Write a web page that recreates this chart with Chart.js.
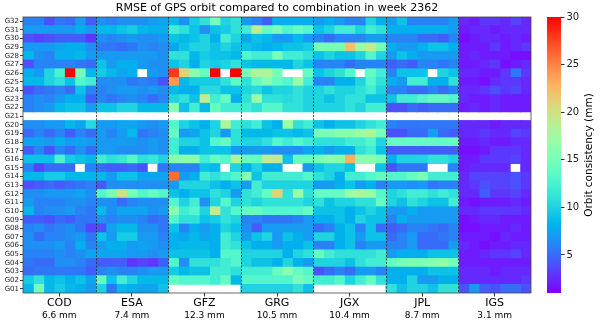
<!DOCTYPE html>
<html>
<head>
<meta charset="utf-8">
<title>RMSE of GPS orbit</title>
<script src="https://cdn.jsdelivr.net/npm/chart.js@4.4.1/dist/chart.umd.min.js"></script>
<style>
  html, body { margin: 0; padding: 0; background: #fff; }
  #wrap { position: relative; width: 600px; height: 325px; }
  #heat { position: absolute; left: 0; top: 0; }
  #bar { position: absolute; left: 540px; top: 0; }
</style>
</head>
<body>
<div id="wrap">
  <canvas id="heat" width="540" height="325"></canvas>
  <canvas id="bar" width="60" height="325"></canvas>
</div>
<script>
const satellites = ["G32", "G31", "G30", "G29", "G28", "G27", "G26", "G25", "G24", "G23", "G22",
  "G21", "G20", "G19", "G18", "G17", "G16", "G15", "G14", "G13", "G12", "G11", "G10", "G09",
  "G08", "G07", "G06", "G05", "G04", "G03", "G02", "G01"];
const centers = ["COD", "ESA", "GFZ", "GRG", "JGX", "JPL", "IGS"];
const centerRms = [6.6, 7.4, 12.3, 10.5, 10.4, 8.7, 3.1];
const colorTicks = [5, 10, 15, 20, 25, 30];
const vmin = 1;
const vmax = 30;
const days = 7;
const fontFamily = "'DejaVu Sans', sans-serif";

// daily RMSE (mm), rows G32 -> G01, one column per day of the week
const cod = [
  [6, 6, 4, 5.5, 5, 7, 4.5],
  [7, 7, 7, 7, 7, 8, 7],
  [4, 3.5, 4, 4.5, 4.5, 4.5, 3],
  [7, 7, 7, 7.5, 8, 8, 6.5],
  [8.5, 6.5, 6, 8, 8, 8.5, 7],
  [4, 6, 6, 6, 6, 5.5, 5],
  [8, 7, 10, 12.5, 30, 15, 8.5],
  [8.5, 8.5, 10, 11, 9, 13, 12],
  [4, 5, 5.5, 6, 5, 9, 6],
  [6, 6.5, 6, 7, 8, 8, 4.5],
  [6, 6.5, 7, 8.5, 9, 9, 7],
  [null, null, null, null, null, null, null],
  [6.5, 6.5, 7, 7, 8.5, 7.5, 10.5],
  [5, 6, 5, 6, 4.5, 6, 5],
  [7.5, 7.5, 7, 8, 7, 7.5, 7],
  [4.5, 6, 4, 6, 5, 6.5, 5],
  [9, 9, 9, 12.5, 9.5, 9, 8.5],
  [6, 3.5, 5, 5, 5, null, 6],
  [8.5, 8.5, 9.5, 9.5, 8.5, 8.5, 8.5],
  [4, 4.5, 5, 4.5, 5, 5.5, 6],
  [6.5, 6.5, 7, 7, 7, 7.5, 6.5],
  [7, 6, 6, 6, 6.5, 6.5, 6],
  [8.5, 6, 6.5, 6.5, 7, 6, 5.5],
  [4.5, 4.5, 4, 5, 4.5, 5.5, 5.5],
  [6, 6.5, 5.5, 6, 6.5, 5.5, 3.5],
  [6.5, 5, 6, 6, 6.5, 7, 5.5],
  [6.5, 6.5, 6.5, 7, 6, 8, 6],
  [6, 6, 6, 6.5, 6, 6.5, 7.5],
  [5.5, 5, 5, 6.5, 6.5, 6, 5],
  [5, 5.5, 5.5, 5.5, 5.5, 5.5, 4.5],
  [9.5, 11, 8.5, 9, 8, 9, 7.5],
  [8.5, 15, 8.5, 9.5, 8.5, 8, 7]
];
const esa = [
  [6.5, 6, 6.5, 6.5, 6.5, 7, 7.5],
  [8.5, 8.5, 9, 9.5, 8.5, 8, 8],
  [6.5, 6, 6.5, 7, 6.5, 6.5, 7],
  [5.5, 5.5, 5, 5.5, 6.5, 6, 6.5],
  [7, 7, 7, 7, 7, 7, 6.5],
  [9, 7, 8, 8, 7, 6.5, 6.5],
  [9.5, 8.5, 7.5, 8, null, 7, 6.5],
  [6.5, 6.5, 6.5, 5.5, 6, 5.5, 4],
  [6, 6.5, 7, 7, 6.5, 7, 6.5],
  [6, 5.5, 6, 6.5, 6, 5, 6],
  [9, 9, 10, 10, 8.5, 8.5, 8.5],
  [null, null, null, null, null, null, null],
  [7, 7, 7.5, 7.5, 7, 6.5, 7],
  [7, 6, 7, 8.5, 5.5, 6, 6.5],
  [7, 7, 7, 7, 6.5, 7, 6.5],
  [7, 7, 6.5, 6.5, 6.5, 7, 6.5],
  [12, 11, 11.5, 13, 11, 11.5, 10],
  [5, 4.5, 4.5, 5, 4, null, 5.5],
  [8.5, 7, 9, 9, 7.5, 7.5, 7.5],
  [4.5, 6.5, 6.5, 6.5, 6.5, 6.5, 6.5],
  [13, 15, 20, 15, 13, 14, 13],
  [6.5, 6.5, 5, 6, 6.5, 6.5, 6.5],
  [8.5, 6.5, 7.5, 7.5, 7.5, 6.5, 7],
  [6.5, 6, 6.5, 6.5, 6, 5, 5.5],
  [4, 7.5, 8.5, 8.5, 6.5, 6.5, 5.5],
  [9, 7, 9.5, 9.5, 7, 7, 6],
  [7, 8, 8, 7, 7.5, 7, 6.5],
  [7.5, 7.5, 7.5, 7, 7, 6.5, 7],
  [4.5, 4.5, 4.5, 3, 3.5, 3, 4.5],
  [6, 6.5, 6, 6, 6.5, 7, 7],
  [14, 9, 12, 10, 8.5, 8.5, 8.5],
  [10, 5.5, 8.5, 8, 7.5, 7.5, 9]
];
const gfz = [
  [8.5, 6.5, 9.5, 11, 15, 10, 11],
  [12, 11, 9, 6.5, 9, 9.5, 11],
  [9, 8.5, 9, 10, 8, 12, 10],
  [7.5, 9, 10, 10, 9, 10, 9],
  [11, 11, 8.5, 9.5, 9, 9, 8.5],
  [9, 10, 8, 10, 9.5, 10, 11],
  [28, 21, 16, 14, 30, null, 30],
  [24, 8.5, 9.5, 9.5, 9.5, 11, 13.5],
  [8.5, 8, 8, 10.5, 10.5, 9, 9],
  [10, 11, 9, 19, 12, 14, 8],
  [16, 9, 12, 8.5, 14, 12, 12],
  [null, null, null, null, null, null, null],
  [13, 10, 9, 8, 10, 18, 12],
  [14, 7, 7.5, 9, 10, 7, 11],
  [12, 10, 10, 9, 13, 14, 11],
  [12, 8, 8, 9, 9, 9, 7],
  [16, 16, 16, 12, 14, 13, 18],
  [6, 6, 6, 9, 8.5, null, 10],
  [26, 7, 8, 12, 11, 12, 13],
  [7, 10, 10, 10, 9, 8, 9],
  [9, 8, 9, 9, 11, 10, 7],
  [13, 10, 12, 6.5, 10, 13, 10],
  [16, 12, 13, 10, 19, 11, 13],
  [13, 11, 11, 9, 9.5, 11, 10],
  [9, 6, 8, 7, 8, 10, 9],
  [8, 7.5, 8.5, 7.5, 8, 12, 10],
  [8, 8.5, 8.5, 8.5, 8, 12, 11],
  [9, 9, 9, 9, 8, 13, 13],
  [13, 6.5, 11, 11, 11, 12, 13],
  [9.5, 8.5, 9, 9, 12, 12, 11],
  [14, 13, 13, 13, 12, 14, 8.5],
  [null, null, null, null, null, null, null]
];
const grg = [
  [7, 6, 4.5, 8, 8, 8, 8],
  [12, 19, 14, 15, 13, 14, 13],
  [7.5, 9, 8.5, 7, 7, 8.5, 7],
  [9, 8.5, 8, 8.5, 9, 9, 9.5],
  [13, 12, 12, 15, 12, 12, 11],
  [9, 8.5, 8.5, 8.5, 8.5, 10, 9],
  [15, 18, 18, 15, null, null, 14],
  [11, 14, 16, 14, 13, 17, 12],
  [10, 10.5, 9, 10, 10, 11, 10],
  [11, 17, 11, 11, 10.5, 11, 10],
  [12, 11, 13, 13, 11, 11, 10],
  [null, null, null, null, null, null, null],
  [11, 12, 9, 8, 17, 11, 12],
  [8.5, 8.5, 8.5, 9, 9, 8.5, 9],
  [10, 10, 11, 13, 12, 13, 12],
  [7, 7, 7, 6.5, 6.5, 6.5, 7.5],
  [14, 14, 19, 19, 9, 14, 14],
  [8, 10, 8, 8, null, null, 7],
  [16, 9, 12, 12, 12, 12, 13],
  [7, 12, 10, 10, 10, 10, 10],
  [11, 12, 14, 21, 11, 17, 11],
  [11, 10, 11, 11, 11, 11, 10],
  [14, 14, 13, 13, 13, 13, 14],
  [6, 6, 5.5, 5.5, 5.5, 6, 7],
  [6.5, 4.5, 7, 7, 7, 7, 7],
  [7, 9, 10, 7, 9, 8, 7],
  [9, 8, 8, 7, 8, 8, 9],
  [10, 10, 10, 10, 8, 10, 11],
  [10, 9, 9, 8, 10, 8, 7],
  [12, 12, 12, 14, 16, 14, 13],
  [13, 13, 13, 13, 13, 15, 14],
  [10, 10, 10, 10, 10, 11, 9]
];
const jgx = [
  [7, 8, 7, 6, 6, 10, 8],
  [9, 10, 12, 12, 10, 12, 11],
  [6, 5, 6, 6, 6, 7, 7],
  [15, 15, 15, 22, 17, 19, 15],
  [9, 10, 9, 9, 10, 13, 10],
  [6, 6, 6, 5, 6, 6, 6],
  [9, 10, 11, 13, null, 14, 12],
  [6, 6, 8, 8, 10, 13, 11],
  [10, 11, 10, 10, 11, 12, 10],
  [10, 9, 10, 11, 11, 9, 9],
  [10, 10, 10, 11, 10, 12, 12],
  [null, null, null, null, null, null, null],
  [9, 8, 9, 9, 10, 11, 12],
  [15, 15, 16, 16, 17, 18, 15],
  [11, 11, 11, 12, 12, 13, 10],
  [8, 7, 8, 8, 11, 12, 9],
  [15, 16, 16, 23, 16, 16, 15],
  [9, 10, 10, 9, null, null, 9],
  [11, 10, 8, 12, 12, 13, 14],
  [7, 7, 8, 9, 7, 8, 6],
  [14, 14, 14, 17, 18, 17, 13],
  [11, 9, 10, 10, 11, 11, 14],
  [9, 9, 9, 8, 9, 10, 9],
  [8, 8, 9, 8, 10, 9, 9],
  [5, 6, 8, 9, 6, 9, 5],
  [10, 10, 8, 9, 7, 9, 9],
  [6, 6, 8, 9, 6, 7, 7],
  [14, 12, 11, 11, 11, 11, 12],
  [10, 10, 10, 9, 11, 12, 12],
  [4, 5, 6, 5, 7, 7, 6],
  [12, 12, 13, 10, 12, 14, 11],
  [null, null, null, null, null, null, null]
];
const jpl = [
  [7, 9, 6, 6, 6, 6, 7],
  [8, 8, 8, 8, 8, 8, 7],
  [6, 6, 6, 5, 5, 4.5, 6],
  [8, 7, 7, 8, 9, 9, 8],
  [7, 9, 8, 7, 7, 7, 7],
  [4.5, 5, 4.5, 6, 6, 5.5, 6],
  [6, 9, 9, 9, null, 10, 9],
  [8, 7, 12, 12, 8, 8, 11],
  [6, 6, 5, 5, 6, 5, 6],
  [9, 12, 12, 13, 14, 14, 13],
  [4, 4, 5, 4.5, 5, 5, 5],
  [null, null, null, null, null, null, null],
  [6, 5.5, 5.5, 5.5, 5.5, 5.5, 5.5],
  [4, 4, 5, 5, 7, 5, 4.5],
  [14, 14, 14, 14, 14, 14, 14],
  [4.5, 4.5, 4.5, 4.5, 4.5, 4.5, 4.5],
  [8, 10, 10, 10, 11, 11, 10],
  [4, 5.5, 5.5, 5.5, null, null, 6],
  [13, 13, 14, 15, 12, 12, 12],
  [7, 7, 6.5, 7, 5.5, 6, 6],
  [10, 11, 12, 12, 11, 12, 11],
  [10, 9, 11, 10, 9, 9, 12],
  [7, 7, 8, 7, 7, 7, 7],
  [6, 8, 7, 7, 7, 7, 7],
  [4.5, 5, 6, 6, 5.5, 5, 6],
  [5, 6, 7, 5, 5, 5.5, 6],
  [6, 6, 7, 5, 5, 5, 7],
  [7, 8, 8, 8, 9, 9, 9],
  [14, 15, 15.5, 15.5, 16, 16.5, 15],
  [8, 8, 8, 8, 9, 9, 9],
  [8, 8, 10, 7, 7, 8, 8],
  [11, 9, 10, 10, 9, 11, 11]
];
const igs = [
  [2.5, 2, 3, 3, 2.5, 3.5, 2.5],
  [2, 2.5, 2.5, 2, 2.5, 2.5, 2.5],
  [1.5, 2, 2.5, 2.5, 2, 2.5, 2],
  [2, 2, 2, 3, 2, 2.5, 3],
  [2, 2.5, 2, 2, 2, 1.5, 1.5],
  [2, 2, 2.5, 3, 1.5, 2, 2.5],
  [2.5, 2.5, 2, 2, 3, 5.5, 3],
  [2, 2, 1.5, 2.5, 3, 3, 2.5],
  [2.5, 2.5, 3, 4, 3, 3.5, 2.5],
  [2.5, 2, 2, 2.5, 2, 2, 2],
  [2, 2.5, 2, 2.5, 2, 2, 2],
  [null, null, null, null, null, null, null],
  [2.5, 2.5, 2.5, 2, 2.5, 2.5, 2.5],
  [2.5, 2.5, 3, 2.5, 2.5, 3.5, 3],
  [2, 2, 2.5, 2, 2, 2.5, 2.5],
  [1.5, 1.5, 2, 3, 3, 3, 2.5],
  [2, 2, 3, 3, 3, 3.5, 2.5],
  [2, 2.5, 2.5, 2.5, 2.5, null, 2.5],
  [2.5, 3.5, 3.5, 3.5, 3.5, 4, 3],
  [2.5, 3, 4, 3.5, 3.5, 4, 3],
  [2.5, 2.5, 4.5, 3, 3, 3.5, 2.5],
  [2, 1.5, 2, 2, 2, 2.5, 2],
  [2.5, 2.5, 3, 3, 3, 3, 2.5],
  [1.5, 2, 2.5, 2.5, 2, 2, 2],
  [1.5, 1.5, 2, 2, 2, 2.5, 2],
  [2, 2, 2, 1.5, 2.5, 2, 2],
  [2.5, 2, 1.5, 2, 2, 2.5, 2.5],
  [2, 2, 2.5, 3, 3, 3.5, 2.5],
  [2, 2, 2, 2, 2, 2, 2],
  [2.5, 2.5, 2.5, 2, 2.5, 2.5, 2.5],
  [2.5, 2.5, 2.5, 2.5, 2.5, 2.5, 3],
  [4, 7, 4.5, 4, 5, 5, 4]
];
const centerValues = [cod, esa, gfz, grg, jgx, jpl, igs];

// matplotlib "rainbow" colormap
function rainbow(v) {
  const t = Math.min(1, Math.max(0, (v - vmin) / (vmax - vmin)));
  const r = Math.min(1, Math.abs(2 * t - 0.5));
  const g = Math.sin(Math.PI * t);
  const b = Math.cos(Math.PI * t / 2);
  return `rgb(${Math.round(r * 255)},${Math.round(g * 255)},${Math.round(b * 255)})`;
}

const datasets = [];
centerValues.forEach((rows, c) => {
  for (let d = 0; d < days; d++) {
    const col = c * days + d;
    datasets.push({
      data: rows.map(r => (r[d] === null ? null : [col, col + 1])),
      backgroundColor: rows.map(r => (r[d] === null ? "rgba(0,0,0,0)" : rainbow(r[d]))),
      grouped: false,
      barPercentage: 1,
      categoryPercentage: 1,
      borderWidth: 0,
      inflateAmount: 0.4
    });
  }
});

const heatExtras = {
  id: "heatExtras",
  afterDatasetsDraw(chart) {
    const { ctx, chartArea: a, scales: { x } } = chart;
    ctx.save();
    ctx.strokeStyle = "#222";
    ctx.lineWidth = 0.8;
    ctx.setLineDash([2, 1.5]);
    for (let c = 1; c < centers.length; c++) {
      const px = Math.round(x.getPixelForValue(c * days)) + 0.5;
      ctx.beginPath();
      ctx.moveTo(px, a.top);
      ctx.lineTo(px, a.bottom);
      ctx.stroke();
    }
    ctx.setLineDash([]);
    ctx.strokeStyle = "#444";
    ctx.strokeRect(a.left, a.top, a.width, a.height);

    ctx.fillStyle = "#000";
    ctx.textAlign = "center";
    ctx.textBaseline = "middle";
    ctx.font = "11px " + fontFamily;
    ctx.fillText("RMSE of GPS orbit compared to combination in week 2362", (a.left + a.right) / 2, 8);
    ctx.font = "9px " + fontFamily;
    centerRms.forEach((v, i) => {
      ctx.fillText(v.toFixed(1) + " mm", x.getPixelForValue(i * days + days / 2), 316);
    });
    ctx.restore();
  }
};

new Chart(document.getElementById("heat"), {
  type: "bar",
  data: { labels: satellites, datasets: datasets },
  options: {
    indexAxis: "y",
    responsive: false,
    animation: false,
    layout: { padding: { top: 17, right: 9, left: 2 } },
    plugins: { legend: { display: false }, tooltip: { enabled: false } },
    scales: {
      x: {
        type: "linear",
        min: 0,
        max: centers.length * days,
        afterBuildTicks: s => { s.ticks = centers.map((c, i) => ({ value: i * days + days / 2 })); },
        ticks: {
          callback: (v, i) => centers[i],
          autoSkip: false,
          maxRotation: 0,
          padding: 0,
          color: "#000",
          font: { family: fontFamily, size: 11 }
        },
        grid: { drawOnChartArea: false, tickLength: 3.5, color: "#333" },
        border: { display: false },
        afterFit: s => { s.height = 32; }
      },
      y: {
        ticks: { autoSkip: false, padding: 1, color: "#222", font: { family: fontFamily, size: 7 } },
        grid: { drawOnChartArea: false, offset: false, tickLength: 3, color: "#333" },
        border: { display: false },
        afterFit: s => { s.width = 21; }
      }
    }
  },
  plugins: [heatExtras]
});

const barLabel = {
  id: "barLabel",
  afterDraw(chart) {
    const { ctx, chartArea: a } = chart;
    ctx.save();
    ctx.translate(49, (a.top + a.bottom) / 2);
    ctx.rotate(-Math.PI / 2);
    ctx.fillStyle = "#000";
    ctx.textAlign = "center";
    ctx.textBaseline = "middle";
    ctx.font = "10.5px " + fontFamily;
    ctx.fillText("Orbit consistency (mm)", 0, 0);
    ctx.restore();
  }
};

new Chart(document.getElementById("bar"), {
  type: "bar",
  data: {
    labels: [""],
    datasets: [{
      data: [[vmin, vmax]],
      backgroundColor: c => {
        const a = c.chart.chartArea;
        if (!a) return rainbow(15);
        const g = c.chart.ctx.createLinearGradient(0, a.bottom, 0, a.top);
        for (let i = 0; i <= 20; i++) g.addColorStop(i / 20, rainbow(vmin + (vmax - vmin) * i / 20));
        return g;
      },
      barPercentage: 1,
      categoryPercentage: 1,
      borderWidth: 0
    }]
  },
  options: {
    responsive: false,
    animation: false,
    layout: { padding: { left: 7, top: 17, bottom: 32 } },
    plugins: { legend: { display: false }, tooltip: { enabled: false } },
    scales: {
      x: { display: false },
      y: {
        position: "right",
        min: vmin,
        max: vmax,
        afterBuildTicks: s => { s.ticks = colorTicks.map(v => ({ value: v })); },
        ticks: { padding: 2, color: "#222", font: { family: fontFamily, size: 10 } },
        grid: { drawOnChartArea: false, tickLength: 3.5, color: "#333" },
        border: { display: false },
        afterFit: s => { s.width = 39; }
      }
    }
  },
  plugins: [barLabel]
});
</script>
</body>
</html>
